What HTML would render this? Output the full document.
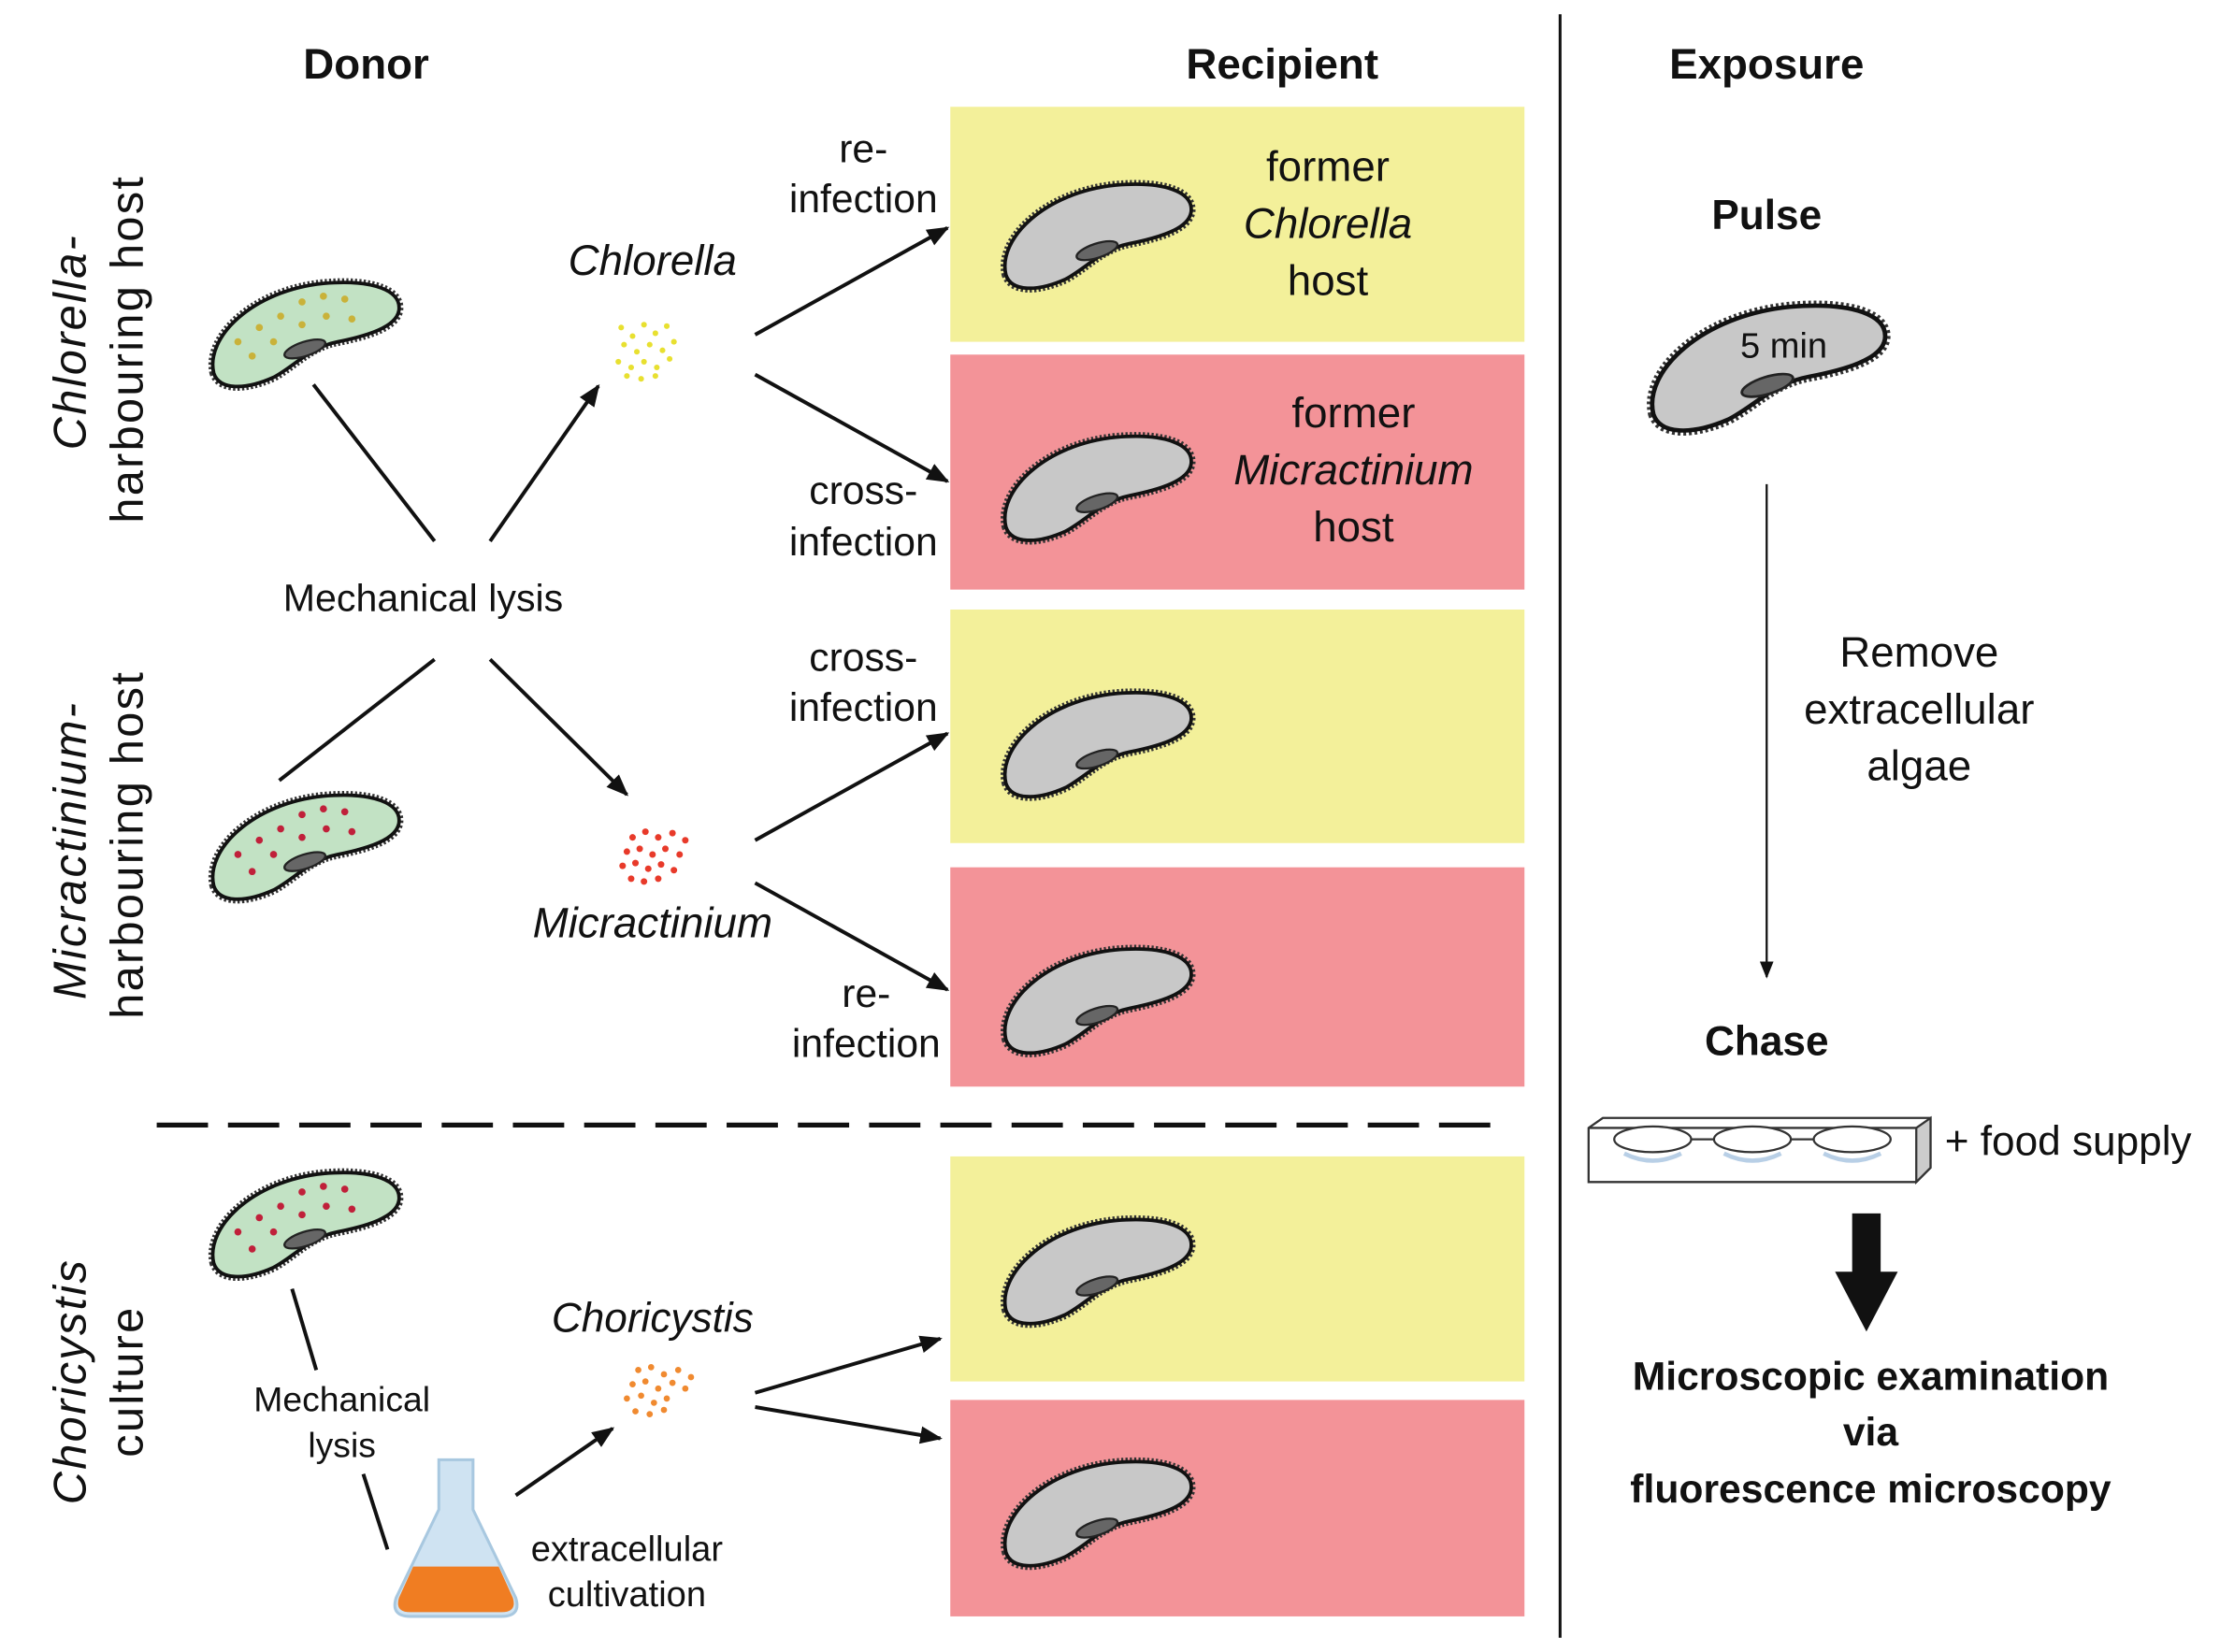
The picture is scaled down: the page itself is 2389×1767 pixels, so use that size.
<!DOCTYPE html>
<html><head><meta charset="utf-8"><style>
html,body{margin:0;padding:0;background:#fff;}
svg{display:block;}
text{font-family:"Liberation Sans",sans-serif;fill:#111;}
</style></head><body>
<svg width="2389" height="1767" viewBox="0 0 1568 1160" preserveAspectRatio="none" xmlns="http://www.w3.org/2000/svg">
<defs>
<marker id="ah" viewBox="0 0 10 10" refX="9" refY="5" markerWidth="6" markerHeight="6" orient="auto"><path d="M0,1 L10,5 L0,9 Z" fill="#111"/></marker>
<marker id="ahs" viewBox="0 0 10 10" refX="9" refY="5" markerWidth="8" markerHeight="8" orient="auto"><path d="M0,1 L10,5 L0,9 Z" fill="#111"/></marker>
<g id="cellshape">
<path d="M-62,30 C-68,5 -35,-28 15,-33 C50,-36 70,-28 68,-14 C66,-2 45,4 25,8 C5,12 -5,25 -20,33 C-40,42 -58,42 -62,30 Z" fill="none" stroke="#333" stroke-width="6" stroke-dasharray="1.5 1.5"/>
<path d="M-62,30 C-68,5 -35,-28 15,-33 C50,-36 70,-28 68,-14 C66,-2 45,4 25,8 C5,12 -5,25 -20,33 C-40,42 -58,42 -62,30 Z" fill="inherit" stroke="#111" stroke-width="2.5"/>
<ellipse cx="2" cy="13" rx="15" ry="5" transform="rotate(-18 2 13)" fill="#666" stroke="#222" stroke-width="1.5"/>
</g>
<g id="gcell" fill="#c8c8c8"><use href="#cellshape"/></g>
<g id="greencell" fill="#c2e2c4"><use href="#cellshape"/></g>
</defs>

<rect x="667" y="75" width="403" height="165" fill="#f3f09a"/>
<rect x="667" y="249" width="403" height="165" fill="#f39398"/>
<rect x="667" y="428" width="403" height="164" fill="#f3f09a"/>
<rect x="667" y="609" width="403" height="154" fill="#f39398"/>
<rect x="667" y="812" width="403" height="158" fill="#f3f09a"/>
<rect x="667" y="983" width="403" height="152" fill="#f39398"/>

<line x1="1095" y1="10" x2="1095" y2="1150" stroke="#111" stroke-width="2"/>
<line x1="110" y1="790" x2="1055" y2="790" stroke="#111" stroke-width="3.5" stroke-dasharray="36 14"/>

<g font-weight="bold" font-size="30" text-anchor="middle">
<text x="257" y="55">Donor</text>
<text x="900" y="55">Recipient</text>
<text x="1240" y="55">Exposure</text>
<text x="1240" y="161" font-size="29">Pulse</text>
<text x="1240" y="741" font-size="29">Chase</text>
</g>

<g font-size="32" text-anchor="middle" letter-spacing="1.5">
<text transform="translate(60,240) rotate(-90)" font-style="italic">Chlorella-</text>
<text transform="translate(100,245) rotate(-90)">harbouring host</text>
<text transform="translate(60,597) rotate(-90)" font-style="italic">Micractinium-</text>
<text transform="translate(100,593) rotate(-90)">harbouring host</text>
<text transform="translate(60,970) rotate(-90)" font-style="italic">Choricystis</text>
<text transform="translate(100,970) rotate(-90)">culture</text>
</g>

<use href="#greencell" x="212" y="232"/>
<use href="#greencell" x="212" y="592"/>
<use href="#greencell" x="212" y="857"/>
<g fill="#c9b23a"><circle cx="177" cy="250" r="2.5"/><circle cx="192" cy="240" r="2.5"/><circle cx="182" cy="230" r="2.5"/><circle cx="197" cy="222" r="2.5"/><circle cx="212" cy="212" r="2.5"/><circle cx="227" cy="208" r="2.5"/><circle cx="242" cy="210" r="2.5"/><circle cx="212" cy="228" r="2.5"/><circle cx="229" cy="222" r="2.5"/><circle cx="247" cy="224" r="2.5"/><circle cx="167" cy="240" r="2.5"/></g>
<g fill="#c0203a"><circle cx="177" cy="612" r="2.5"/><circle cx="192" cy="600" r="2.5"/><circle cx="182" cy="590" r="2.5"/><circle cx="197" cy="582" r="2.5"/><circle cx="212" cy="572" r="2.5"/><circle cx="227" cy="568" r="2.5"/><circle cx="242" cy="570" r="2.5"/><circle cx="212" cy="588" r="2.5"/><circle cx="229" cy="582" r="2.5"/><circle cx="247" cy="584" r="2.5"/><circle cx="167" cy="600" r="2.5"/>
<circle cx="177" cy="877" r="2.5"/><circle cx="192" cy="865" r="2.5"/><circle cx="182" cy="855" r="2.5"/><circle cx="197" cy="847" r="2.5"/><circle cx="212" cy="837" r="2.5"/><circle cx="227" cy="833" r="2.5"/><circle cx="242" cy="835" r="2.5"/><circle cx="212" cy="853" r="2.5"/><circle cx="229" cy="847" r="2.5"/><circle cx="247" cy="849" r="2.5"/><circle cx="167" cy="865" r="2.5"/></g>

<use href="#gcell" x="768" y="163"/>
<use href="#gcell" x="768" y="340"/>
<use href="#gcell" x="768" y="520"/>
<use href="#gcell" x="768" y="700"/>
<use href="#gcell" x="768" y="890"/>
<use href="#gcell" x="768" y="1060"/>
<use href="#gcell" transform="translate(1238,255) scale(1.25,1.2)"/>
<text x="1252" y="251" font-size="25" text-anchor="middle">5 min</text>

<g fill="#e8e030">
<circle cx="436" cy="230" r="2"/><circle cx="444" cy="236" r="2"/><circle cx="452" cy="228" r="2"/><circle cx="460" cy="234" r="2"/><circle cx="468" cy="229" r="2"/><circle cx="438" cy="242" r="2"/><circle cx="447" cy="247" r="2"/><circle cx="456" cy="242" r="2"/><circle cx="465" cy="246" r="2"/><circle cx="473" cy="240" r="2"/><circle cx="434" cy="254" r="2"/><circle cx="443" cy="258" r="2"/><circle cx="452" cy="254" r="2"/><circle cx="461" cy="258" r="2"/><circle cx="470" cy="252" r="2"/><circle cx="440" cy="264" r="2"/><circle cx="450" cy="266" r="2"/><circle cx="460" cy="264" r="2"/>
</g>
<g fill="#e83a2a">
<circle cx="444" cy="588" r="2.3"/><circle cx="453" cy="584" r="2.3"/><circle cx="462" cy="588" r="2.3"/><circle cx="472" cy="585" r="2.3"/><circle cx="481" cy="590" r="2.3"/><circle cx="440" cy="598" r="2.3"/><circle cx="449" cy="596" r="2.3"/><circle cx="458" cy="600" r="2.3"/><circle cx="467" cy="596" r="2.3"/><circle cx="477" cy="600" r="2.3"/><circle cx="437" cy="608" r="2.3"/><circle cx="446" cy="606" r="2.3"/><circle cx="455" cy="610" r="2.3"/><circle cx="464" cy="607" r="2.3"/><circle cx="473" cy="611" r="2.3"/><circle cx="443" cy="617" r="2.3"/><circle cx="452" cy="619" r="2.3"/><circle cx="462" cy="617" r="2.3"/>
</g>
<g fill="#f08a30">
<circle cx="448" cy="962" r="2.2"/><circle cx="457" cy="960" r="2.2"/><circle cx="466" cy="965" r="2.2"/><circle cx="476" cy="962" r="2.2"/><circle cx="485" cy="967" r="2.2"/><circle cx="444" cy="972" r="2.2"/><circle cx="453" cy="970" r="2.2"/><circle cx="462" cy="975" r="2.2"/><circle cx="472" cy="971" r="2.2"/><circle cx="481" cy="975" r="2.2"/><circle cx="440" cy="982" r="2.2"/><circle cx="450" cy="980" r="2.2"/><circle cx="459" cy="985" r="2.2"/><circle cx="468" cy="982" r="2.2"/><circle cx="446" cy="991" r="2.2"/><circle cx="456" cy="993" r="2.2"/><circle cx="466" cy="990" r="2.2"/>
</g>

<g stroke="#111" stroke-width="2.6" fill="none">
<line x1="220" y1="270" x2="305" y2="380"/>
<line x1="344" y1="380" x2="420" y2="271" marker-end="url(#ah)"/>
<line x1="196" y1="548" x2="305" y2="463"/>
<line x1="344" y1="463" x2="440" y2="558" marker-end="url(#ah)"/>
<line x1="530" y1="235" x2="665" y2="160" marker-end="url(#ah)"/>
<line x1="530" y1="263" x2="665" y2="338" marker-end="url(#ah)"/>
<line x1="530" y1="590" x2="665" y2="515" marker-end="url(#ah)"/>
<line x1="530" y1="620" x2="665" y2="695" marker-end="url(#ah)"/>
<line x1="530" y1="978" x2="660" y2="940" marker-end="url(#ah)"/>
<line x1="530" y1="988" x2="660" y2="1010" marker-end="url(#ah)"/>
<line x1="205" y1="905" x2="222" y2="962"/>
<line x1="255" y1="1035" x2="272" y2="1088"/>
<line x1="362" y1="1050" x2="430" y2="1003" marker-end="url(#ah)"/>
</g>
<line x1="1240" y1="340" x2="1240" y2="686" stroke="#111" stroke-width="1.5" marker-end="url(#ahs)"/>

<path d="M308,1025 L332,1025 L332,1060 L362,1122 Q366,1135 352,1135 L288,1135 Q274,1135 278,1122 L308,1060 Z" fill="#cfe3f2" stroke="#a8c8e0" stroke-width="2"/>
<path d="M290,1100 L350,1100 L360,1122 Q363,1132 352,1132 L288,1132 Q277,1132 280,1122 Z" fill="#f07d22"/>

<path d="M1115,792 L1125,785 L1355,785 L1355,820 L1345,830 L1115,830 Z" fill="#fff" stroke="#333" stroke-width="1.5"/>
<path d="M1345,792 L1355,785 L1355,820 L1345,830 Z" fill="#ccc" stroke="#333" stroke-width="1.5"/>
<line x1="1115" y1="792" x2="1345" y2="792" stroke="#333" stroke-width="1.5"/>
<path d="M1187,800 L1203,800 M1257,800 L1273,800" stroke="#333" stroke-width="1.5"/>
<path d="M1140,810 Q1160,820 1180,810 M1210,810 Q1230,820 1250,810 M1280,810 Q1300,820 1320,810" stroke="#b8cfe6" stroke-width="3" fill="none"/>
<ellipse cx="1160" cy="800" rx="27" ry="9" fill="#fff" stroke="#333" stroke-width="1.5"/>
<ellipse cx="1230" cy="800" rx="27" ry="9" fill="#fff" stroke="#333" stroke-width="1.5"/>
<ellipse cx="1300" cy="800" rx="27" ry="9" fill="#fff" stroke="#333" stroke-width="1.5"/>
<text x="1365" y="811" font-size="29">+ food supply</text>

<path d="M1300,852 L1320,852 L1320,893 L1332,893 L1310,935 L1288,893 L1300,893 Z" fill="#111"/>

<g font-size="28" text-anchor="middle">
<text x="297" y="429" font-size="27">Mechanical lysis</text>
<text x="606" y="114">re-</text><text x="606" y="149">infection</text>
<text x="606" y="354">cross-</text><text x="606" y="390">infection</text>
<text x="606" y="471">cross-</text><text x="606" y="506">infection</text>
<text x="608" y="707">re-</text><text x="608" y="742">infection</text>
<text x="932" y="127" font-size="30">former</text>
<text x="932" y="167" font-size="30" font-style="italic">Chlorella</text>
<text x="932" y="207" font-size="30">host</text>
<text x="950" y="300" font-size="30">former</text>
<text x="950" y="340" font-size="30" font-style="italic">Micractinium</text>
<text x="950" y="380" font-size="30">host</text>
<text x="458" y="193" font-size="30" font-style="italic">Chlorella</text>
<text x="458" y="658" font-size="30" font-style="italic">Micractinium</text>
<text x="458" y="935" font-size="29" font-style="italic">Choricystis</text>
<text x="240" y="991" font-size="24.5">Mechanical</text>
<text x="240" y="1023" font-size="24.5">lysis</text>
<text x="440" y="1096" font-size="25">extracellular</text>
<text x="440" y="1128" font-size="25">cultivation</text>
<text x="1347" y="468" font-size="30">Remove</text>
<text x="1347" y="508" font-size="30">extracellular</text>
<text x="1347" y="548" font-size="30">algae</text>
<g font-weight="bold" font-size="28">
<text x="1313" y="976">Microscopic examination</text>
<text x="1313" y="1015">via</text>
<text x="1313" y="1055">fluorescence microscopy</text>
</g>
</g>
</svg>
</body></html>
